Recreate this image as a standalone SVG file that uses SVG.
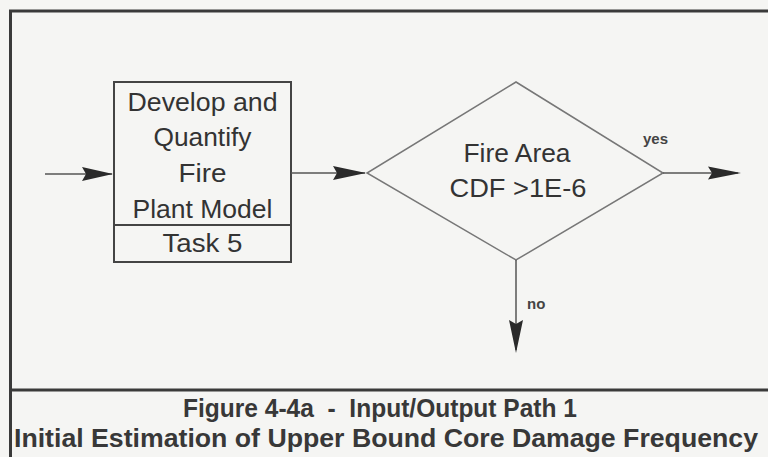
<svg xmlns="http://www.w3.org/2000/svg" width="768" height="457" viewBox="0 0 768 457">
  <style>
    .frame { fill: none; stroke: #3a3a3a; stroke-width: 3; }
    .node { fill: none; stroke: #444; stroke-width: 2; }
    .diamond { fill: none; stroke: #777; stroke-width: 1.5; }
    .wire { fill: none; stroke: #555; stroke-width: 1.5; }
    .head { fill: #2a2a2a; }
    .label { font-family: "Liberation Sans", Arial, sans-serif; font-size: 25px; fill: #333; text-anchor: middle; }
    .small { font-family: "Liberation Sans", Arial, sans-serif; font-size: 15px; font-weight: bold; fill: #444; }
    .caption { font-family: "Liberation Sans Narrow", "Liberation Sans", Arial, sans-serif; font-size: 25px; font-weight: bold; fill: #383838; text-anchor: middle; white-space: pre; }
  </style>

  <rect width="768" height="457" fill="#f5f5f3"/>

  <!-- outer frame and caption divider -->
  <g id="frame">
    <path class="frame" d="M10.5,457 V11 H768"/>
    <line class="frame" x1="10" y1="390" x2="768" y2="390" stroke-width="2.5"/>
  </g>

  <!-- process box -->
  <g id="task5">
    <rect class="node" x="114" y="82" width="177" height="180"/>
    <line class="node" x1="114" y1="225" x2="291" y2="225"/>
    <text class="label" x="202.5" y="111" textLength="150" lengthAdjust="spacingAndGlyphs">Develop and</text>
    <text class="label" x="202.5" y="146" textLength="98" lengthAdjust="spacingAndGlyphs">Quantify</text>
    <text class="label" x="202.5" y="182" textLength="48" lengthAdjust="spacingAndGlyphs">Fire</text>
    <text class="label" x="202.5" y="218" textLength="140" lengthAdjust="spacingAndGlyphs">Plant Model</text>
    <text class="label" x="202.5" y="252" textLength="80" lengthAdjust="spacingAndGlyphs">Task 5</text>
  </g>

  <!-- decision -->
  <g id="decision">
    <polygon class="diamond" points="516,82 663,173 516,260 367,173"/>
    <text class="label" x="517" y="162" textLength="107" lengthAdjust="spacingAndGlyphs">Fire Area</text>
    <text class="label" x="518" y="197" textLength="137" lengthAdjust="spacingAndGlyphs">CDF &gt;1E-6</text>
  </g>

  <!-- connectors -->
  <g id="connectors">
    <line class="wire" x1="45" y1="174" x2="112" y2="174"/>
    <polygon class="head" points="82,167 113,174 82,181 86,174"/>

    <line class="wire" x1="291" y1="173" x2="365" y2="173"/>
    <polygon class="head" points="333,166 366,173 333,180 337,173"/>

    <line class="wire" x1="663" y1="173" x2="738" y2="173"/>
    <polygon class="head" points="708,166.5 741,173 708,179.5 712,173"/>
    <text class="small" x="643" y="144">yes</text>

    <line class="wire" x1="516" y1="260" x2="516" y2="350"/>
    <polygon class="head" points="509,320 516,353 523,320 516,324"/>
    <text class="small" x="527" y="309">no</text>
  </g>

  <!-- caption -->
  <g id="caption">
    <text class="caption" x="380" y="417" textLength="394" lengthAdjust="spacingAndGlyphs">Figure 4-4a  -  Input/Output Path 1</text>
    <text class="caption" x="386" y="447" textLength="744" lengthAdjust="spacingAndGlyphs">Initial Estimation of Upper Bound Core Damage Frequency</text>
  </g>
</svg>
